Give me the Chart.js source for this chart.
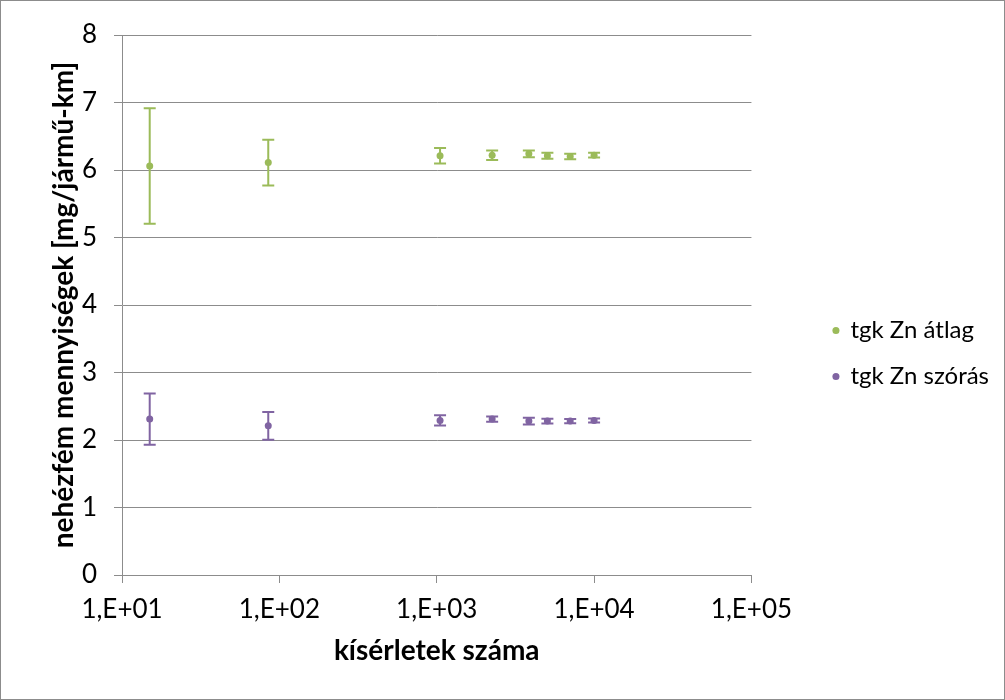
<!DOCTYPE html>
<html>
<head>
<meta charset="utf-8">
<script src="https://cdn.jsdelivr.net/npm/chart.js@4"></script>
<style>
  body { margin: 0; background: #fff; }
  #wrap { width: 1005px; height: 700px; box-sizing: border-box; border: 1px solid #8c8c8c; }
</style>
</head>
<body>
<div id="wrap"><canvas id="c" width="1003" height="698"></canvas></div>
<script>
var trials = [15, 85, 1050, 2250, 3850, 5050, 7050, 10000];
var meanValues = [6.06, 6.11, 6.21, 6.22, 6.24, 6.21, 6.20, 6.22];
var meanErrors = [0.855, 0.34, 0.115, 0.07, 0.05, 0.045, 0.04, 0.035];
var sdValues = [2.31, 2.21, 2.29, 2.31, 2.28, 2.28, 2.28, 2.29];
var sdErrors = [0.38, 0.205, 0.075, 0.04, 0.05, 0.035, 0.03, 0.03];
var xTicks = [10, 100, 1000, 10000, 100000];

var green = '#9bbb59', purple = '#8064a2', gridGray = '#8c8c8c';
var font = 'Lato';

function points(ys) {
  return trials.map(function (x, i) { return { x: x, y: ys[i] }; });
}

var errorBars = {
  id: 'errorBars',
  beforeDatasetsDraw: function (chart) {
    var ctx = chart.ctx, xs = chart.scales.x, ys = chart.scales.y;
    chart.data.datasets.forEach(function (ds) {
      ctx.save();
      ctx.strokeStyle = ds.borderColor;
      ctx.lineWidth = 2;
      ds.data.forEach(function (p, i) {
        var px = xs.getPixelForValue(p.x);
        var top = ys.getPixelForValue(p.y + ds.errors[i]);
        var bot = ys.getPixelForValue(p.y - ds.errors[i]);
        ctx.beginPath();
        ctx.moveTo(px, top); ctx.lineTo(px, bot);
        ctx.moveTo(px - 6, top); ctx.lineTo(px + 6, top);
        ctx.moveTo(px - 6, bot); ctx.lineTo(px + 6, bot);
        ctx.stroke();
      });
      ctx.restore();
    });
  }
};

new Chart(document.getElementById('c'), {
  type: 'scatter',
  data: {
    datasets: [
      {
        label: 'tgk Zn átlag',
        data: points(meanValues),
        errors: meanErrors,
        backgroundColor: green,
        borderColor: green,
        borderWidth: 0,
        pointRadius: 3.5
      },
      {
        label: 'tgk Zn szórás',
        data: points(sdValues),
        errors: sdErrors,
        backgroundColor: purple,
        borderColor: purple,
        borderWidth: 0,
        pointRadius: 3.5
      }
    ]
  },
  plugins: [errorBars],
  options: {
    responsive: false,
    animation: false,
    layout: { padding: { left: 42, top: 34, bottom: 27, right: 5 } },
    plugins: {
      tooltip: { enabled: false },
      legend: {
        position: 'right',
        maxWidth: 400,
        labels: {
          usePointStyle: true,
          pointStyle: 'circle',
          boxWidth: 5,
          boxHeight: 5,
          padding: 22,
          color: '#000',
          font: { family: font, size: 24 }
        }
      }
    },
    scales: {
      x: {
        type: 'logarithmic',
        min: 10,
        max: 100000,
        afterBuildTicks: function (s) {
          s.ticks = xTicks.map(function (v) { return { value: v }; });
        },
        afterFit: function (s) { s.height = 97; },
        grid: { drawOnChartArea: false, color: gridGray, tickLength: 8 },
        border: { color: gridGray },
        ticks: {
          padding: 11,
          color: '#000',
          font: { family: font, size: 26 },
          maxRotation: 0,
          callback: function (v) {
            var e = Math.round(Math.log10(v));
            return '1,E+' + (e < 10 ? '0' : '') + e;
          }
        },
        title: {
          display: true,
          text: 'kísérletek száma',
          color: '#000',
          font: { family: font, size: 28, weight: 'bold' }
        }
      },
      y: {
        min: 0,
        max: 8,
        afterFit: function (s) { s.width = 79; },
        grid: { color: gridGray, tickLength: 8 },
        border: { color: gridGray },
        ticks: {
          stepSize: 1,
          padding: 17,
          color: '#000',
          font: { family: font, size: 26 }
        },
        title: {
          display: true,
          text: 'nehézfém mennyiségek [mg/jármű-km]',
          color: '#000',
          font: { family: font, size: 28, weight: 'bold' }
        }
      },
      gap: {
        type: 'linear',
        position: 'right',
        afterFit: function (s) { s.width = 60; },
        grid: { display: false },
        border: { display: false },
        ticks: { display: false }
      }
    }
  }
});
</script>
</body>
</html>
